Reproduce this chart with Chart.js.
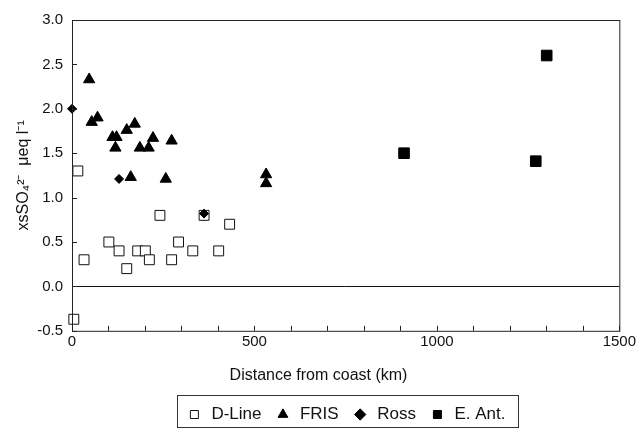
<!DOCTYPE html>
<html>
<head>
<meta charset="utf-8">
<script src="https://cdn.jsdelivr.net/npm/chart.js@4/dist/chart.umd.min.js"></script>
<style>
  html, body { margin: 0; padding: 0; background: #fff; }
  #wrap { width: 638px; height: 428px; }
</style>
</head>
<body>
<div id="wrap"><canvas id="chart" width="638" height="428"></canvas></div>
<script>
// distance from coast (km) and xsSO4 (ueq/l)
const dLineX = [16, 33, 101, 129, 150, 180, 201, 212, 241, 273, 292, 331, 362, 402, 432, 5];
const dLineY = [1.3, 0.3, 0.5, 0.4, 0.2, 0.4, 0.4, 0.3, 0.8, 0.3, 0.5, 0.4, 0.8, 0.4, 0.7, -0.37];

const frisX = [47, 54, 70, 111, 122, 119, 150, 172, 186, 210, 222, 273, 161, 257, 532, 532];
const frisY = [2.33, 1.85, 1.9, 1.68, 1.68, 1.56, 1.76, 1.83, 1.56, 1.56, 1.67, 1.64, 1.23, 1.21, 1.26, 1.16];

const rossX = [0, 129, 362];
const rossY = [2.0, 1.21, 0.82];

const eAntX = [910, 1271, 1301];
const eAntY = [1.5, 1.41, 2.6];

const xTicks = [0, 500, 1000, 1500];
const yTicks = [-0.5, 0, 0.5, 1.0, 1.5, 2.0, 2.5, 3.0];

const FONT = 'Liberation Sans, Arial, sans-serif';
const toPoints = (xs, ys) => xs.map((x, i) => ({ x: x, y: ys[i] }));

// box round the plot, inward tick marks, box round the legend items
const framePlugin = {
  id: 'frame',
  afterDraw(chart) {
    const ctx = chart.ctx;
    const a = chart.chartArea;
    const xs = chart.scales.x, ys = chart.scales.y;
    ctx.save();
    ctx.strokeStyle = '#222';
    ctx.lineWidth = 1;
    ctx.strokeRect(a.left + 0.5, a.top + 0.5, a.right - a.left, a.bottom - a.top);
    ctx.beginPath();
    xs.ticks.forEach(t => {
      const px = Math.round(xs.getPixelForValue(t.value)) + 0.5;
      ctx.moveTo(px, a.bottom);
      ctx.lineTo(px, a.bottom - 5);
    });
    ys.ticks.forEach(t => {
      const py = Math.round(ys.getPixelForValue(t.value)) + 0.5;
      ctx.moveTo(a.left, py);
      ctx.lineTo(a.left + 5, py);
    });
    ctx.stroke();
    const hb = chart.legend.legendHitBoxes;
    if (hb && hb.length) {
      const l = Math.min(...hb.map(b => b.left)) - 9;
      const r = Math.max(...hb.map(b => b.left + b.width)) + 12;
      const t = Math.min(...hb.map(b => b.top)) - 11;
      const bt = chart.height - 1;
      ctx.strokeStyle = '#333';
      ctx.strokeRect(Math.round(l) + 0.5, Math.round(t) + 0.5, Math.round(r - l), Math.round(bt - t));
    }
    ctx.restore();
  }
};

new Chart(document.getElementById('chart').getContext('2d'), {
  type: 'scatter',
  data: {
    datasets: [
      {
        label: 'D-Line',
        data: toPoints(dLineX, dLineY),
        pointStyle: 'rect',
        pointRadius: 7,
        backgroundColor: '#fff',
        borderColor: '#111',
        borderWidth: 1,
        clip: false,
        order: 3
      },
      {
        label: 'FRIS',
        data: toPoints(frisX, frisY),
        pointStyle: 'triangle',
        pointRadius: 6.5,
        backgroundColor: '#000',
        borderColor: '#000',
        borderWidth: 1,
        clip: false,
        order: 1
      },
      {
        label: 'Ross',
        data: toPoints(rossX, rossY),
        pointStyle: 'rectRot',
        pointRadius: 4.5,
        backgroundColor: '#000',
        borderColor: '#000',
        borderWidth: 1,
        clip: false,
        order: 0
      },
      {
        label: 'E. Ant.',
        data: toPoints(eAntX, eAntY),
        pointStyle: 'rect',
        pointRadius: 7.5,
        backgroundColor: '#000',
        borderColor: '#000',
        borderWidth: 1,
        clip: false,
        order: 2
      }
    ]
  },
  options: {
    responsive: false,
    animation: false,
    layout: { padding: { left: 8, right: 9, top: 20, bottom: -5 } },
    plugins: {
      tooltip: { enabled: false },
      // x axis caption, centred on the page like the original
      title: {
        display: true,
        position: 'bottom',
        weight: 500,
        text: 'Distance from coast (km)',
        color: '#111',
        padding: { top: 13, bottom: 8 },
        font: { family: FONT, size: 16, weight: 'normal' }
      },
      legend: {
        position: 'bottom',
        fullSize: false,
        labels: {
          usePointStyle: true,
          color: '#111',
          font: { family: FONT, size: 17 },
          padding: 13,
          boxHeight: 8,
          sort: (a, b) => a.datasetIndex - b.datasetIndex
        }
      }
    },
    scales: {
      x: {
        type: 'linear',
        min: 0,
        max: 1500,
        afterBuildTicks(scale) {
          const t = [];
          for (let v = 0; v <= 1500; v += 100) t.push({ value: v });
          scale.ticks = t;
        },
        grid: { display: false, drawTicks: false },
        border: { display: false },
        ticks: {
          color: '#111',
          padding: 2,
          autoSkip: false,
          maxRotation: 0,
          font: { family: FONT, size: 15 },
          callback: v => xTicks.includes(v) ? String(v) : ''
        }
      },
      y: {
        min: -0.5,
        max: 3.0,
        afterBuildTicks(scale) {
          scale.ticks = yTicks.map(v => ({ value: v }));
        },
        afterFit(scale) { scale.width = 64; },
        grid: {
          drawTicks: false,
          color: ctx => ctx.tick && ctx.tick.value === 0 ? '#111' : 'rgba(0,0,0,0)'
        },
        border: { display: false },
        ticks: {
          color: '#111',
          padding: 9,
          font: { family: FONT, size: 15 },
          callback: v => v.toFixed(1)
        },
        title: {
          display: true,
          text: 'xsSO\u2084\u00b2\u207b  \u03bceq l\u207b\u00b9',
          color: '#111',
          padding: { top: 6, bottom: 0 },
          font: { family: FONT, size: 16 }
        }
      }
    }
  },
  plugins: [framePlugin]
});
</script>
</body>
</html>
